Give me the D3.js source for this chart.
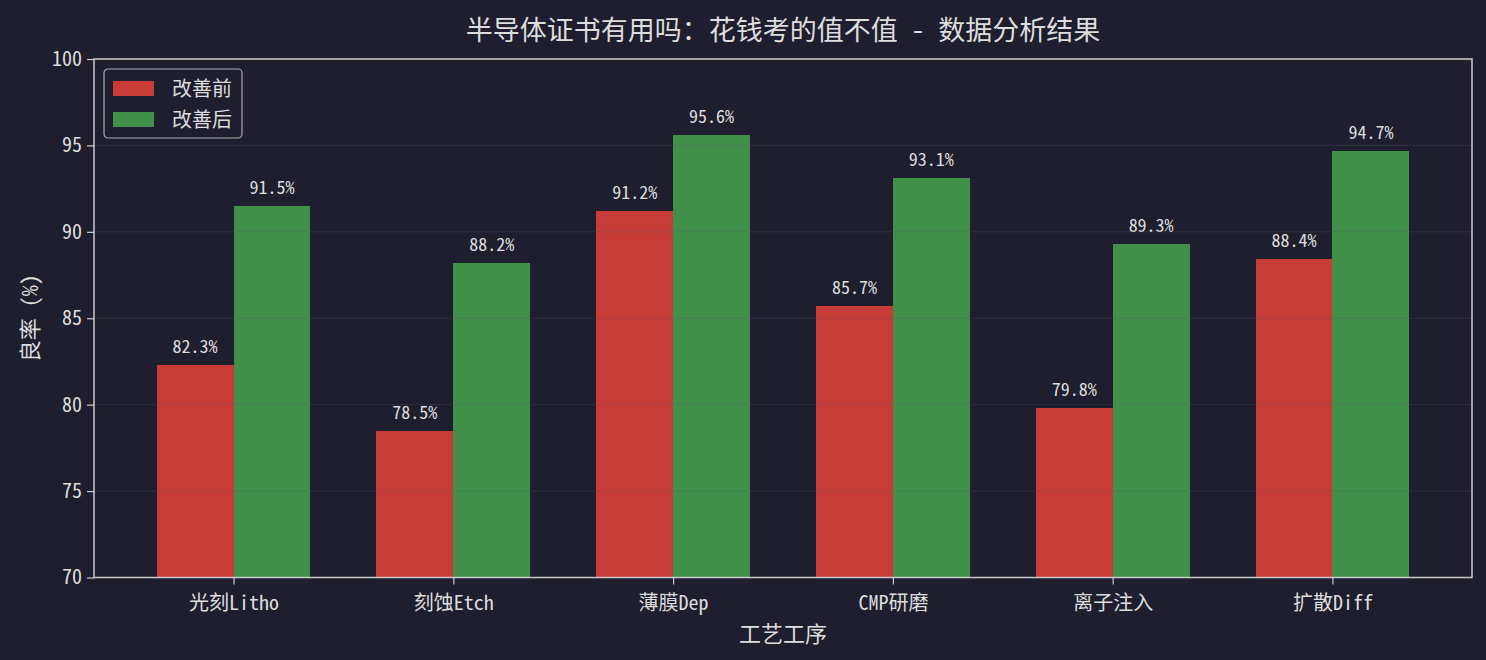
<!DOCTYPE html>
<html>
<head>
<meta charset="utf-8">
<script src="https://cdn.jsdelivr.net/npm/d3@7"></script>
<style>
  html, body { margin: 0; padding: 0; background: #1e1e2e; }
  svg { display: block; }
  text { font-family: "Noto Sans Mono CJK SC", "Noto Sans CJK SC", sans-serif; fill: #dddddd; }
</style>
</head>
<body>
<svg id="chart"></svg>
<script>
// data
var categories = ["光刻Litho", "刻蚀Etch", "薄膜Dep", "CMP研磨", "离子注入", "扩散Diff"];
var before = [82.3, 78.5, 91.2, 85.7, 79.8, 88.4];
var after = [91.5, 88.2, 95.6, 93.1, 89.3, 94.7];
var seriesNames = ["改善前", "改善后"];
var seriesColors = ["#c83c37", "#41904a"];
var yTicks = [70, 75, 80, 85, 90, 95, 100];

var W = 1486, H = 660;
var margin = {top: 59, right: 14, bottom: 82.5, left: 94};
var width = W - margin.left - margin.right,
    height = H - margin.top - margin.bottom;

var svg = d3.select("#chart")
    .attr("width", W)
    .attr("height", H);

svg.append("rect")
    .attr("width", W)
    .attr("height", H)
    .attr("fill", "#1e1e2e");

var g = svg.append("g")
    .attr("transform", "translate(" + margin.left + "," + margin.top + ")");

// matplotlib style: centres at 0..n-1, bar width 0.35, 5% margins
var n = categories.length;
var barW = 0.35;
var lo = -barW, hi = n - 1 + barW;
var pad = (hi - lo) * 0.05;
var x = d3.scaleLinear()
    .domain([lo - pad, hi + pad])
    .range([0, width]);

var y = d3.scaleLinear()
    .domain([70, 100])
    .range([height, 0]);

var series = [before, after];

series.forEach(function(vals, s){
    var off = s == 0 ? -barW : 0;
    g.selectAll(".bar-" + s)
      .data(vals)
      .enter().append("rect")
        .attr("class", "bar-" + s)
        .attr("x", function(d, i) { return x(i + off); })
        .attr("y", function(d) { return y(d); })
        .attr("width", function(d, i) { return x(i + off + barW) - x(i + off); })
        .attr("height", function(d) { return height - y(d); })
        .attr("fill", seriesColors[s])
        .attr("shape-rendering", "crispEdges");

    g.selectAll(".lbl-" + s)
      .data(vals)
      .enter().append("text")
        .attr("class", "lbl-" + s)
        .attr("x", function(d, i) { return x(i + off + barW / 2); })
        .attr("y", function(d) { return y(d) - 12; })
        .attr("text-anchor", "middle")
        .style("font-size", "18px")
        .text(function(d) { return d.toFixed(1) + "%"; });
});

// grid on top of bars
g.selectAll(".grid")
  .data(yTicks)
  .enter().append("line")
    .attr("class", "grid")
    .attr("x1", 0)
    .attr("x2", width)
    .attr("y1", function(d) { return y(d); })
    .attr("y2", function(d) { return y(d); })
    .attr("stroke", "#555566")
    .attr("stroke-opacity", 0.3)
    .attr("stroke-width", 1);

// axes
var yAxis = g.append("g")
    .call(d3.axisLeft(y).tickValues(yTicks).tickSize(7).tickPadding(5));
var xAxis = g.append("g")
    .attr("transform", "translate(0," + height + ")")
    .call(d3.axisBottom(x).tickValues(d3.range(n)).tickSize(7).tickPadding(6)
        .tickFormat(function(i) { return categories[i]; }));

[xAxis, yAxis].forEach(function(a){
    a.select(".domain").remove();
    a.selectAll(".tick line").attr("stroke", "#cccccc").attr("stroke-width", 1.2);
    a.selectAll(".tick text")
        .style("font-size", "20px")
        .attr("fill", "#dddddd")
        .style("font-family", null);
});
xAxis.selectAll(".tick text").attr("dy", "0.95em");

g.append("rect")
    .attr("width", width)
    .attr("height", height)
    .attr("fill", "none")
    .attr("stroke", "#cccccc")
    .attr("stroke-width", 1.5);

// title and axis labels
svg.append("text")
    .attr("x", margin.left + width / 2)
    .attr("y", 40)
    .attr("text-anchor", "middle")
    .style("font-size", "27px")
    .text("半导体证书有用吗：花钱考的值不值 - 数据分析结果");

svg.append("text")
    .attr("x", margin.left + width / 2)
    .attr("y", 642)
    .attr("text-anchor", "middle")
    .style("font-size", "22px")
    .text("工艺工序");

svg.append("text")
    .attr("transform", "translate(38," + (margin.top + height / 2) + ") rotate(-90)")
    .attr("text-anchor", "middle")
    .style("font-size", "22px")
    .text("良率 (%)");

// legend
var legend = svg.append("g")
    .attr("transform", "translate(104,69)");

legend.append("rect")
    .attr("width", 138)
    .attr("height", 69)
    .attr("rx", 4)
    .attr("fill", "#1e1e2e")
    .attr("fill-opacity", 0.8)
    .attr("stroke", "#aaaaaa")
    .attr("stroke-width", 1.2);

seriesNames.forEach(function(name, i){
    var row = legend.append("g")
        .attr("transform", "translate(0," + (12 + i * 31) + ")");
    row.append("rect")
        .attr("x", 9)
        .attr("width", 41)
        .attr("height", 15)
        .attr("fill", seriesColors[i]);
    row.append("text")
        .attr("x", 68)
        .attr("y", 7.5)
        .attr("dy", "0.35em")
        .style("font-size", "20px")
        .text(name);
});
</script>
</body>
</html>
